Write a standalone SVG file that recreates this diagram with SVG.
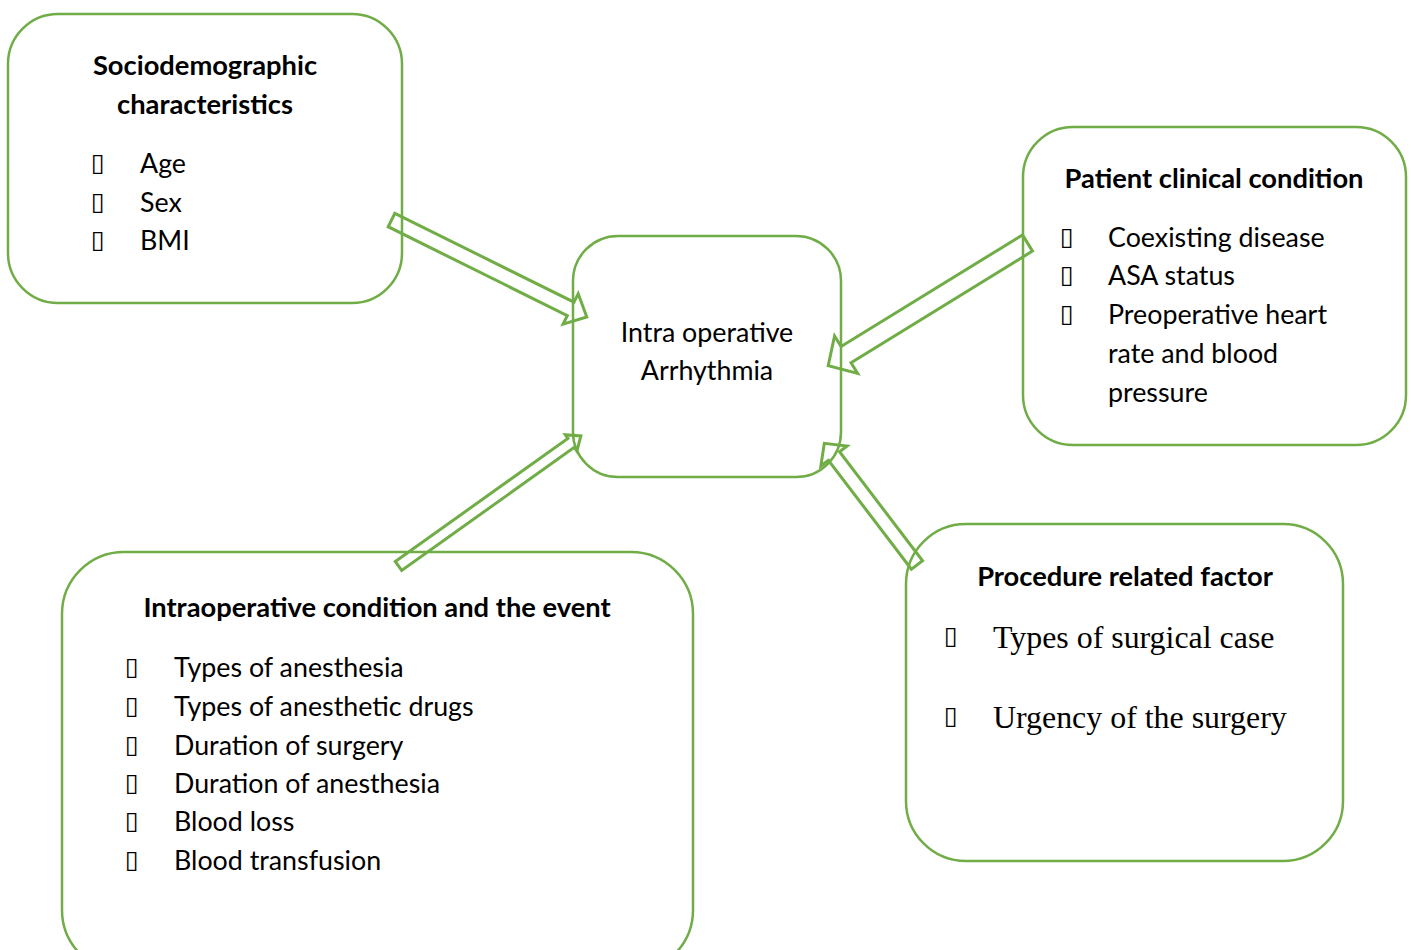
<svg xmlns="http://www.w3.org/2000/svg" width="1411" height="950" viewBox="0 0 1411 950">
<style>
.box{fill:none;stroke:#70AD47;stroke-width:2.5}
.arr{fill:none;stroke:#70AD47;stroke-width:3;stroke-linejoin:miter}
.t{font-family:Lato,"Open Sans","Liberation Sans",sans-serif;font-size:26.8px;fill:#000}
.b{font-family:Lato,"Open Sans","Liberation Sans",sans-serif;font-size:27.3px;font-weight:bold;fill:#000}
.s{font-family:"Liberation Serif","Times New Roman",serif;font-size:31.9px;fill:#000}
.bu{font-family:"DejaVu Sans",sans-serif;font-size:25px;fill:#000}
</style>
<rect width="1411" height="950" fill="#fff"/>
<g id="connectors">
<path class="arr" transform="translate(391.5,220) rotate(26.4)" d="M0,-7.5 L200,-7.5 L200,-17 L218,0 L200,17 L200,7.5 L0,7.5 Z"/>
<path class="arr" transform="translate(1027.5,243) rotate(148.4)" d="M0,-9.5 L213,-9.5 L213,-22 L234,0 L213,22 L213,9.5 L0,9.5 Z"/>
<path class="arr" transform="translate(398.5,566) rotate(-35.5)" d="M0,-5.5 L212,-5.5 L212,-10 L224,0 L212,10 L212,5.5 L0,5.5 Z"/>
<path class="arr" transform="translate(917,565) rotate(-127.3)" d="M0,-7 L137,-7 L137,-16.5 L153,0 L137,16.5 L137,7 L0,7 Z"/>
</g>
<g id="sociodemographic">
<rect class="box" x="8" y="14" width="394" height="289" rx="50"/>
<text class="b" x="205" y="75" text-anchor="middle">Sociodemographic</text>
<text class="b" x="205" y="114" text-anchor="middle">characteristics</text>
<text class="bu" x="91" y="171">▯</text><text class="t" x="140" y="173">Age</text>
<text class="bu" x="91" y="210">▯</text><text class="t" x="140" y="212">Sex</text>
<text class="bu" x="91" y="248">▯</text><text class="t" x="140" y="250">BMI</text>
</g>
<g id="arrhythmia">
<rect class="box" x="573" y="236" width="268" height="241" rx="45"/>
<text class="t" x="707" y="342" text-anchor="middle">Intra operative</text>
<text class="t" x="707" y="380" text-anchor="middle">Arrhythmia</text>
</g>
<g id="patient">
<rect class="box" x="1023" y="127" width="383" height="318" rx="50"/>
<text class="b" x="1214" y="188" text-anchor="middle">Patient clinical condition</text>
<text class="bu" x="1060" y="245">▯</text><text class="t" x="1108" y="247">Coexisting disease</text>
<text class="bu" x="1060" y="283">▯</text><text class="t" x="1108" y="285">ASA status</text>
<text class="bu" x="1060" y="322">▯</text><text class="t" x="1108" y="324">Preoperative heart</text>
<text class="t" x="1108" y="363">rate and blood</text>
<text class="t" x="1108" y="402">pressure</text>
</g>
<g id="intraoperative">
<rect class="box" x="62" y="552" width="631" height="420" rx="62"/>
<text class="b" x="377" y="617" text-anchor="middle">Intraoperative condition and the event</text>
<text class="bu" x="125" y="675">▯</text><text class="t" x="174" y="677">Types of anesthesia</text>
<text class="bu" x="125" y="714">▯</text><text class="t" x="174" y="716">Types of anesthetic drugs</text>
<text class="bu" x="125" y="753">▯</text><text class="t" x="174" y="755">Duration of surgery</text>
<text class="bu" x="125" y="791">▯</text><text class="t" x="174" y="793">Duration of anesthesia</text>
<text class="bu" x="125" y="829">▯</text><text class="t" x="174" y="831">Blood loss</text>
<text class="bu" x="125" y="868">▯</text><text class="t" x="174" y="870">Blood transfusion</text>
</g>
<g id="procedure">
<rect class="box" x="906" y="524" width="437" height="337" rx="60"/>
<text class="b" x="1125" y="586" text-anchor="middle">Procedure related factor</text>
<text class="bu" x="944" y="644">▯</text><text class="s" x="993" y="648">Types of surgical case</text>
<text class="bu" x="944" y="724">▯</text><text class="s" x="993" y="728">Urgency of the surgery</text>
</g>
</svg>
